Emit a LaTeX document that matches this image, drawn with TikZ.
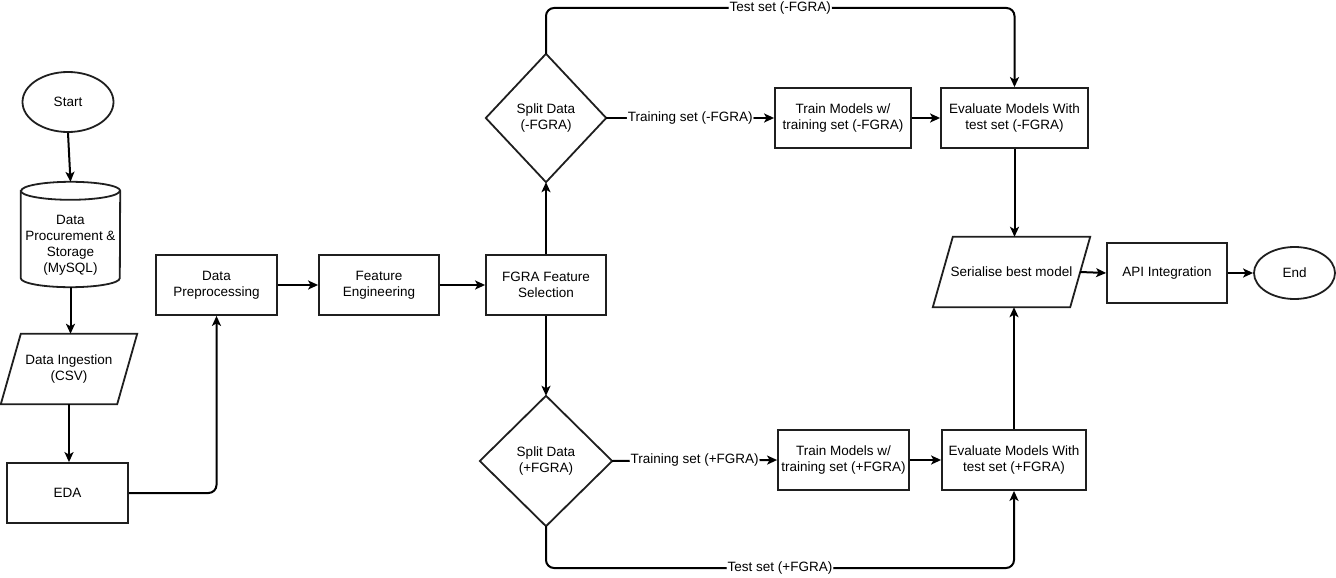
\documentclass[tikz,border=0pt]{standalone}
\usepackage{fontspec}
\setmainfont{Liberation Sans}
\usetikzlibrary{shapes.geometric,arrows.meta,calc}

\begin{document}
\begin{tikzpicture}[x=1pt,y=-1pt,
  every node/.style={font=\fontsize{13.5}{16}\selectfont, align=center, text=black, inner sep=0pt},
  shp/.style={line width=1.8pt, draw=black!88},
  proc/.style={shp, draw, minimum height=60pt},
  terminal/.style={shp, draw, ellipse},
  conn/.style={line width=2pt, draw=black, rounded corners=8pt,
               -{Stealth[length=10pt,width=9pt,inset=2.5pt]}},
  lbl/.style={fill=white, inner sep=1pt}
]
\useasboundingbox (0,0) rectangle (1336,578);

% ---------- left column ----------
\node[terminal, minimum width=91pt, minimum height=60pt] (start) at (68,102) {Start};

% database cylinder (text frame is the body below the top cap)
\node[minimum width=99pt, minimum height=84pt] (db) at (70.5,245)
  {Data\\Procurement \&\\Storage\\(MySQL)};
\coordinate (dbtop) at ($(db.north)+(0,-21)$);
\draw[shp]
  ($(db.north west)+(0,-12)$) -- ($(db.south west)+(0,-9)$)
  arc[start angle=180, end angle=360, x radius=49.5pt, y radius=9pt]
  -- ($(db.north east)+(0,-12)$)
  arc[start angle=0, end angle=180, x radius=49.5pt, y radius=9pt] -- cycle;
\draw[shp] ($(db.north west)+(0,-12)$)
  arc[start angle=180, end angle=360, x radius=49.5pt, y radius=9pt];

% data ingestion (parallelogram)
\node[minimum width=116pt, minimum height=70pt] (ingest) at (69,369) {Data Ingestion\\(CSV)};
\draw[shp] ($(ingest.north west)+(10,0)$) -- ($(ingest.north east)+(10,0)$)
  -- ($(ingest.south east)+(-10,0)$) -- ($(ingest.south west)+(-10,0)$) -- cycle;

\node[proc, minimum width=121pt] (eda) at (67.5,493) {EDA};

% ---------- middle row ----------
\node[proc, minimum width=121pt] (prep) at (216.5,285) {Data\\Preprocessing};
\node[proc, minimum width=120pt] (feng) at (379,285) {Feature\\Engineering};
\node[proc, minimum width=120pt] (fgra) at (546,285) {FGRA Feature\\Selection};

% ---------- split decisions ----------
\node[minimum width=120pt, minimum height=128pt] (splitm) at (546,118) {Split Data\\(-FGRA)};
\draw[shp] (splitm.north) -- (splitm.east) -- (splitm.south) -- (splitm.west) -- cycle;
\node[minimum width=132pt, minimum height=130pt] (splitp) at (546,461) {Split Data\\(+FGRA)};
\draw[shp] (splitp.north) -- (splitp.east) -- (splitp.south) -- (splitp.west) -- cycle;

% ---------- training / evaluation ----------
\node[proc, minimum width=136pt] (trainm) at (843,118) {Train Models w/\\training set (-FGRA)};
\node[proc, minimum width=147pt] (evalm) at (1014.5,118) {Evaluate Models With\\test set (-FGRA)};
\node[proc, minimum width=131pt] (trainp) at (843.5,460) {Train Models w/\\training set (+FGRA)};
\node[proc, minimum width=144pt] (evalp) at (1014,460) {Evaluate Models With\\test set (+FGRA)};

% ---------- deployment ----------
\node[minimum width=137pt, minimum height=70pt] (ser) at (1011.5,272) {Serialise best model};
\draw[shp] ($(ser.north west)+(10,0)$) -- ($(ser.north east)+(10,0)$)
  -- ($(ser.south east)+(-10,0)$) -- ($(ser.south west)+(-10,0)$) -- cycle;
\node[proc, minimum width=120pt] (api) at (1167,273) {API Integration};
\node[terminal, minimum width=81pt, minimum height=52pt] (finish) at (1294.5,273) {End};

% ---------- connectors ----------
\coordinate (topy) at (0,8);
\coordinate (boty) at (0,568);

\draw[conn] (start.south) -- (dbtop);
\draw[conn] (db.south) -- (db.south |- ingest.north);
\draw[conn] (ingest.south) -- (ingest.south |- eda.north);
\draw[conn] (eda.east) -| (prep.south);
\draw[conn] (prep.east) -- (feng.west);
\draw[conn] (feng.east) -- (fgra.west);
\draw[conn] (fgra.north) -- (splitm.south);
\draw[conn] (fgra.south) -- (splitp.north);

\draw[conn] (splitm.north) -- (splitm.north |- topy)
  -- node[lbl]{Test set (-FGRA)} (evalm.north |- topy) -- (evalm.north);
\draw[conn] (splitm.east) -- node[lbl]{Training set (-FGRA)} (trainm.west);
\draw[conn] (trainm.east) -- (evalm.west);

\draw[conn] (splitp.south) -- (splitp.south |- boty)
  -- node[lbl]{Test set (+FGRA)} (evalp.south |- boty) -- (evalp.south);
\draw[conn] (splitp.east) -- node[lbl]{Training set (+FGRA)} (trainp.west);
\draw[conn] (trainp.east) -- (evalp.west);

\draw[conn] (evalm.south) -- (evalm.south |- ser.north);
\draw[conn] (evalp.north) -- (evalp.north |- ser.south);
\draw[conn] (ser.east) -- (api.west);
\draw[conn] (api.east) -- (finish.west);
\end{tikzpicture}
\end{document}
